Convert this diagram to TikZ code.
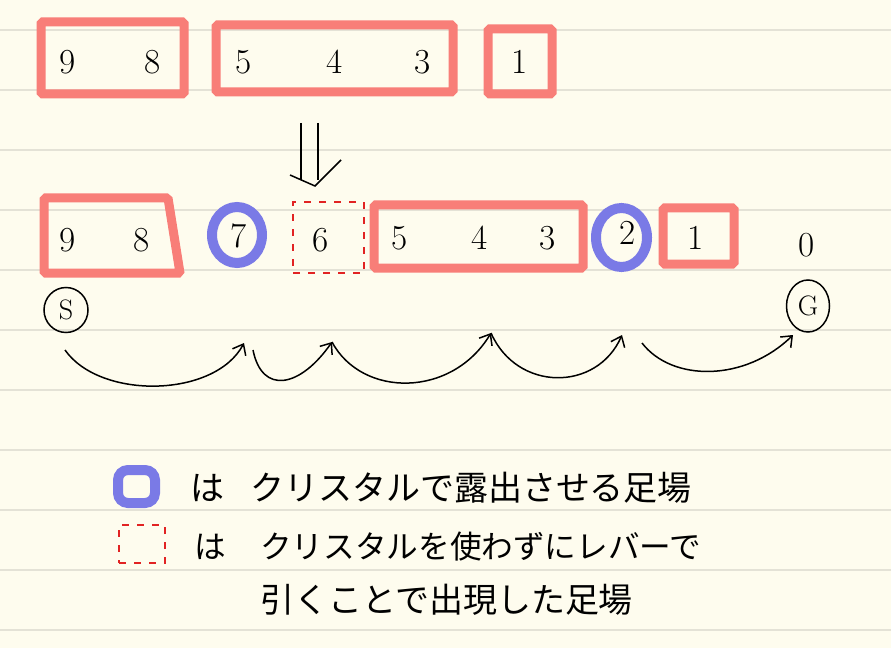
\documentclass[tikz,border=0pt]{standalone}
\usepackage{fontspec}
\newfontfamily\jp{Noto Sans CJK JP}
\usetikzlibrary{arrows.meta,shapes.geometric}
\definecolor{paper}{RGB}{254,252,238}
\definecolor{rulecol}{RGB}{228,226,214}
\definecolor{salmon}{RGB}{248,126,120}
\definecolor{violet}{RGB}{122,122,230}
\definecolor{dashred}{RGB}{225,35,35}
\tikzset{
  redbox/.style={draw=salmon,line width=9*0.03cm,rounded corners=0.05cm,inner sep=0},
  bluering/.style={draw=violet,line width=10*0.03cm,ellipse,inner sep=0},
  dashbox/.style={draw=dashred,line width=0.045cm,dash pattern=on 0.2cm off 0.25cm,inner sep=0},
  digit/.style={font=\fontsize{30}{30}\selectfont,inner sep=0},
  hop/.style={-{Straight Barb[length=0.28cm,width=0.45cm]},line width=0.045cm},
  jptext/.style={font=\jp\fontsize{27}{27}\selectfont,anchor=west,inner sep=0},
  ringed/.style={draw,ellipse,line width=0.045cm,inner sep=0,font=\fontsize{24}{24}\selectfont},
}
\begin{document}
\begin{tikzpicture}[x=0.03cm,y=-0.03cm]
\useasboundingbox (0,0) rectangle (891,648);
\fill[paper] (0,0) rectangle (891,648);
\foreach \yy in {30,90,...,630} \draw[rulecol,line width=0.06cm] (0,\yy) -- (891,\yy);

% top row
\node[redbox,minimum width=143*0.03cm,minimum height=72*0.03cm] (t1) at (112.5,58) {};
\node[redbox,minimum width=237*0.03cm,minimum height=67*0.03cm] (t2) at (334.5,58.5) {};
\node[redbox,minimum width=64*0.03cm,minimum height=65*0.03cm] (t3) at (520,61.5) {};
\node[digit] (a9) at (68,62) {9};
\node[digit] (a8) at (153,62) {8};
\node[digit] (a5) at (244,62) {5};
\node[digit] (a4) at (335,62) {4};
\node[digit] (a3) at (423,62) {3};
\node[digit] (a1) at (520,62) {1};

% down arrow
\coordinate (d1) at (301,123);
\coordinate (d2) at (318,123);
\coordinate (d3) at (301,180);
\coordinate (d4) at (318,180);
\coordinate (dl) at (290,175);
\coordinate (dt) at (315,186);
\coordinate (dr) at (341,160);
\draw[line width=0.045cm] (d1) -- (d3) (d2) -- (d4);
\draw[line width=0.045cm] (dl) -- (dt) -- (dr);

% bottom row
\draw[draw=salmon,line width=9*0.03cm,rounded corners=0.05cm] (44,198) -- (168,198) -- (180,273) -- (44,273) -- cycle;
\node[bluering,minimum width=50*0.03cm,minimum height=56*0.03cm] (r7) at (237,235) {};
\node[dashbox,minimum width=71*0.03cm,minimum height=71*0.03cm] (b6) at (328.5,237.5) {};
\node[redbox,minimum width=209*0.03cm,minimum height=63*0.03cm] (b543) at (478.5,236.5) {};
\node[bluering,minimum width=51*0.03cm,minimum height=59*0.03cm] (r2) at (621.5,237.5) {};
\node[redbox,minimum width=71*0.03cm,minimum height=56*0.03cm] (b1) at (698.5,236) {};
\node[digit] (c9) at (68,240) {9};
\node[digit] (c8) at (142,240) {8};
\node[digit] (c7) at (239,236) {7};
\node[digit] (c6) at (321,240) {6};
\node[digit] (c5) at (400,238) {5};
\node[digit] (c4) at (480,238) {4};
\node[digit] (c3) at (548,238) {3};
\node[digit] (c2) at (628,233) {2};
\node[digit] (c1) at (696,238) {1};
\node[digit] (c0) at (807,245) {0};

\node[ringed,minimum width=44*0.03cm,minimum height=45*0.03cm] (S) at (66,310) {S};
\node[ringed,minimum width=43*0.03cm,minimum height=52*0.03cm] (G) at (808,306) {G};

% hops
\coordinate (h0) at (65,350);
\coordinate (h1) at (244,343);
\coordinate (h1b) at (253,350);
\coordinate (h2) at (332,342);
\coordinate (h3) at (491,333);
\coordinate (h4) at (622,335);
\coordinate (h4b) at (642,343);
\coordinate (h5) at (793,335);
\draw[hop] (h0) .. controls (100,400) and (215,398) .. (h1);
\draw[hop] (h1b) .. controls (262,395) and (300,388) .. (h2);
\draw[hop] (h2) .. controls (362,398) and (452,398) .. (h3);
\draw[hop] (h3) .. controls (517,392) and (597,392) .. (h4);
\draw[hop] (h4b) .. controls (672,382) and (745,382) .. (h5);

% legend
\node[draw=violet,line width=10*0.03cm,rounded corners=0.3cm,minimum width=37*0.03cm,minimum height=33*0.03cm,inner sep=0] (lg1) at (136.5,486.5) {};
\node[dashbox,minimum width=46*0.03cm,minimum height=38*0.03cm] (lg2) at (142,544) {};
\node[jptext,font=\jp\fontsize{29}{29}\selectfont] (w1a) at (190,488) {は};
\node[jptext,font=\jp\fontsize{29}{29}\selectfont] (w1b) at (250,488) {クリスタルで露出させる足場};
\node[jptext] (w2a) at (194,547) {は};
\node[jptext] (w2b) at (260,547) {クリスタルを使わずにレバーで};
\node[jptext,font=\jp\fontsize{29}{29}\selectfont] (w3) at (260,600) {引くことで出現した足場};
\end{tikzpicture}
\end{document}
